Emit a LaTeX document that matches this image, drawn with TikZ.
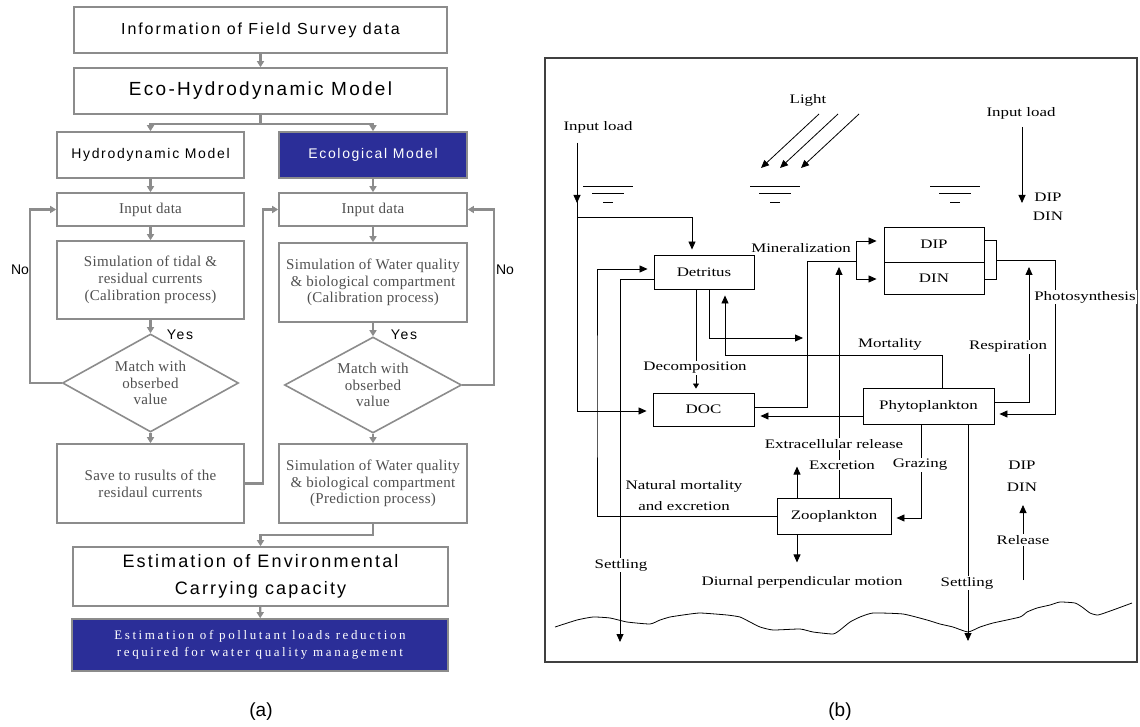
\documentclass[tikz,border=0pt]{standalone}
\usepackage{fontspec}
\setmainfont{Liberation Serif}
\newfontfamily\gsans[LetterSpace=12]{Liberation Sans}
\newfontfamily\plainsans{Liberation Sans}
\newfontfamily\gserif[LetterSpace=2]{Liberation Serif}
\newfontfamily\wserif[LetterSpace=20]{Liberation Serif}
\newfontfamily\bserif[FakeStretch=1.3]{Liberation Serif}
\usetikzlibrary{shapes.geometric,arrows.meta}
\definecolor{modelblue}{RGB}{43,46,152}
\definecolor{linegray}{RGB}{140,140,140}
\definecolor{textgray}{RGB}{80,80,80}
\tikzset{
  hbox/.style={draw=linegray,line width=1.6pt,fill=white,inner sep=0pt,align=center},
  sbox/.style={hbox,text=textgray,font=\gserif\fontsize{15}{16.7}\selectfont},
  dbox/.style={sbox,diamond,aspect=1.8},
  garrow/.style={draw=linegray,line width=2.2pt,-{Triangle[length=6pt,width=7pt]}},
  pbox/.style={draw,line width=0.9pt,inner sep=0pt,font=\bserif\fontsize{13}{15}\selectfont},
  parrow/.style={line width=0.8pt,-{Triangle[length=8pt,width=7pt]}},
  plabel/.style={inner sep=1pt,font=\bserif\fontsize{13}{15}\selectfont,align=center},
  flabel/.style={plabel,fill=white}
}
\begin{document}
\begin{tikzpicture}[x=1pt,y=-1pt]
\useasboundingbox (0,0) rectangle (1140,727);
\node[hbox,minimum width=373pt,minimum height=46pt,font=\gsans\fontsize{16}{19}\selectfont] (info) at (260.5,30) {Information of Field Survey data};
\node[hbox,minimum width=373pt,minimum height=46pt,font=\gsans\fontsize{19}{22}\selectfont] (eco) at (260.5,91) {Eco-Hydrodynamic Model};
\node[hbox,minimum width=187pt,minimum height=46pt,font=\gsans\fontsize{14}{17}\selectfont] (hydro) at (150.5,155) {Hydrodynamic Model};
\node[hbox,fill=modelblue,text=white,minimum width=188pt,minimum height=46pt,font=\gsans\fontsize{14}{17}\selectfont] (ecol) at (373,155) {Ecological Model};
\node[sbox,minimum width=187pt,minimum height=33pt] (inL) at (150.5,209.5) {Input data};
\node[sbox,minimum width=188pt,minimum height=33pt] (inR) at (373,209.5) {Input data};
\node[sbox,minimum width=187pt,minimum height=78pt] (simL) at (150.5,280) {Simulation of tidal \&\\residual currents\\(Calibration process)};
\node[sbox,minimum width=188pt,minimum height=79pt] (simR) at (373,282.5) {Simulation of Water quality\\\& biological compartment\\(Calibration process)};
\node[dbox,minimum width=176pt,minimum height=98pt] (matL) at (150.5,383) {Match with\\obserbed\\value};
\node[dbox,minimum width=177pt,minimum height=96pt] (matR) at (373,385) {Match with\\obserbed\\value};
\node[sbox,minimum width=187pt,minimum height=79pt] (saveL) at (150.5,483.5) {Save to rusults of the\\residaul currents};
\node[sbox,minimum width=188pt,minimum height=79pt] (predR) at (373,483.5) {Simulation of Water quality\\\& biological compartment\\(Prediction process)};
\node[hbox,minimum width=375pt,minimum height=59pt,font=\gsans\fontsize{18}{27}\selectfont] (est) at (260.5,576.5) {Estimation of Environmental\\Carrying capacity};
\node[hbox,fill=modelblue,text=white,minimum width=376pt,minimum height=52pt,font=\wserif\fontsize{13}{16.7}\selectfont] (red) at (260,645) {Estimation of pollutant loads reduction\\required for water quality management};
\node[font=\plainsans\fontsize{14}{16}\selectfont] (noL) at (20,270) {No};
\node[font=\plainsans\fontsize{14}{16}\selectfont] (noR) at (505,270) {No};
\node[font=\gsans\fontsize{14}{16}\selectfont] (yesL) at (180,335) {Yes};
\node[font=\gsans\fontsize{14}{16}\selectfont] (yesR) at (404,335) {Yes};
\node[font=\plainsans\fontsize{19}{22}\selectfont] (capA) at (261,712) {(a)};
\node[font=\plainsans\fontsize{19}{22}\selectfont] (capB) at (840,712) {(b)};
\draw[garrow] (info) -- (eco);
\draw[garrow] (eco.south) -- ++(0,9) -| (hydro.north);
\draw[garrow] (eco.south) -- ++(0,9) -| (ecol.north);
\draw[garrow] (hydro) -- (inL);
\draw[garrow] (ecol) -- (inR);
\draw[garrow] (inL) -- (simL);
\draw[garrow] (inR) -- (simR);
\draw[garrow] (simL) -- (matL);
\draw[garrow] (simR) -- (matR);
\draw[garrow] (matL) -- (saveL);
\draw[garrow] (matR) -- (predR);
\draw[garrow] (matL.west) -- ++(-32,0) |- (inL.west);
\draw[garrow] (matR.east) -- ++(32,0) |- (inR.east);
\draw[garrow] (saveL.east) -- ++(18,0) |- (inR.west);
\draw[garrow] (predR.south) -- ++(0,11) -| (est.north);
\draw[garrow] (est) -- (red);
\draw[line width=1.2pt,draw=black!75] (545,58) rectangle (1137,662);
\node[pbox,minimum width=100pt,minimum height=34pt] (det) at (704,272) {Detritus};
\node[pbox,minimum width=100pt,minimum height=35pt] (dip) at (934,244.5) {DIP};
\node[pbox,minimum width=100pt,minimum height=32pt] (din) at (934,278) {DIN};
\node[pbox,minimum width=101pt,minimum height=33pt] (doc) at (703.5,409.5) {DOC};
\node[pbox,minimum width=131pt,minimum height=36pt] (phy) at (928.5,406) {Phytoplankton};
\node[pbox,minimum width=114pt,minimum height=36pt] (zoo) at (834,516) {Zooplankton};
\coordinate (inl) at (577,143);
\coordinate (inr) at (1022,127);
\coordinate (jn) at (577,217);
\coordinate (setl) at (620,642);
\coordinate (setr) at (968,641);
\coordinate (mdet) at (803,338);
\coordinate (mc) at (807,261);
\coordinate (mn) at (856,261);
\coordinate (brk) at (996,260);
\coordinate (rsp) at (1029,267);
\coordinate (exc) at (839,267);
\coordinate (rel0) at (1023,580);
\coordinate (rel1) at (1023,505);
\foreach \dx in {0,19,40}
  \draw[parrow] (819+\dx,114) -- (761+\dx,168);
\foreach \cx in {608,775,955}{
  \draw[line width=0.8pt] (\cx-25,186) -- (\cx+25,186);
  \draw[line width=0.8pt] (\cx-16,193) -- (\cx+16,193);
  \draw[line width=0.8pt] (\cx-5,202) -- (\cx+5,202);
}
\draw[parrow] (inl) -- ++(0,60);
\draw[parrow,shorten >=6pt] (inl) |- ([yshift=-1.5pt]doc.west);
\draw[parrow,shorten >=5pt] (jn) -| ([xshift=-12pt]det.north);
\draw[parrow,shorten >=6pt] (zoo.west) -| (597,400) |- ([yshift=3pt]det.west);
\draw[parrow] ([yshift=-7pt]det.west) -| (setl);
\draw[line width=0.8pt,-{Triangle[length=5pt,width=6pt]},shorten >=4pt] ([xshift=-8pt]det.south) -- ([xshift=-7.5pt]doc.north);
\draw[parrow] ([xshift=5pt]det.south) |- (mdet);
\draw[parrow,shorten >=6pt] ([xshift=13.5pt]phy.north) -- ++(0,-32) -| ([xshift=21pt]det.south);
\draw[line width=0.8pt] ([yshift=2.5pt]doc.east) -| (mc) -- (mn);
\draw[parrow,shorten >=7pt] (mn) |- ([yshift=3.5pt]dip.west);
\draw[parrow,shorten >=7pt] (mn) |- ([yshift=-1pt]din.west);
\draw[line width=0.8pt] ([yshift=4.5pt]dip.east) -| ([xshift=12pt,yshift=-1pt]din.east) -- ([yshift=-1pt]din.east);
\draw[parrow,shorten >=5pt] (brk) -| (1055,414) -- ([yshift=-8pt]phy.east);
\draw[parrow] ([yshift=4pt]phy.east) -| (rsp);
\draw[parrow,shorten >=6pt] ([yshift=-10pt]phy.west) -- ([yshift=-6.5pt]doc.east);
\draw[parrow] ([xshift=5pt]zoo.north) -- (exc);
\draw[parrow] ([xshift=-37pt]zoo.north) -- ++(0,-31);
\draw[parrow] ([xshift=-37pt]zoo.south) -- ++(0,28);
\draw[parrow,shorten >=5pt] ([xshift=-7.5pt]phy.south) |- ([yshift=-2pt]zoo.east);
\draw[parrow] ([xshift=39.5pt]phy.south) -- (setr);
\draw[parrow] (rel0) -- (rel1);
\draw[parrow] (inr) -- ++(0,76);
\draw[line width=0.8pt] plot[smooth,tension=0.3] coordinates {(555,627) (577,620) (593,617) (610,618) (627,622) (650,624) (660,620) (670,617) (683,615) (700,613) (727,615) (740,617) (750,622) (760,627) (773,630) (800,629) (813,632) (833,634) (840,630) (850,622) (860,617) (873,613) (903,614) (927,620) (940,624) (953,627) (968,632) (980,627) (993,623) (1020,617) (1027,612) (1037,608) (1050,605) (1060,602) (1075,603) (1082,607) (1090,613) (1098,615) (1113,610) (1132,603)};
\node[plabel] (light) at (808,100) {Light};
\node[plabel] (loadL) at (598,127) {Input load};
\node[plabel] (loadR) at (1021,113) {Input load};
\node[plabel] (dipA) at (1048,197) {DIP};
\node[plabel] (dinA) at (1048,216) {DIN};
\node[plabel] (mineral) at (801,248) {Mineralization};
\node[plabel] (mort) at (890,344) {Mortality};
\node[flabel] (resp) at (1008,347) {Respiration};
\node[flabel] (photo) at (1085,297) {Photosynthesis};
\node[flabel] (decomp) at (695,368) {Decomposition};
\node[flabel] (extra) at (834,444) {Extracellular release};
\node[flabel] (excr) at (842,465) {Excretion};
\node[flabel] (graz) at (920,465) {Grazing};
\node[plabel] (dipB) at (1022,465) {DIP};
\node[plabel] (dinB) at (1022,487) {DIN};
\node[plabel,font=\bserif\fontsize{13}{21}\selectfont] (natmort) at (684,496) {Natural mortality\\and excretion};
\node[flabel] (setlL) at (621,565) {Settling};
\node[plabel] (diurnal) at (802,582) {Diurnal perpendicular motion};
\node[flabel] (setlR) at (967,583) {Settling};
\node[flabel] (rel) at (1023,540) {Release};
\end{tikzpicture}
\end{document}
